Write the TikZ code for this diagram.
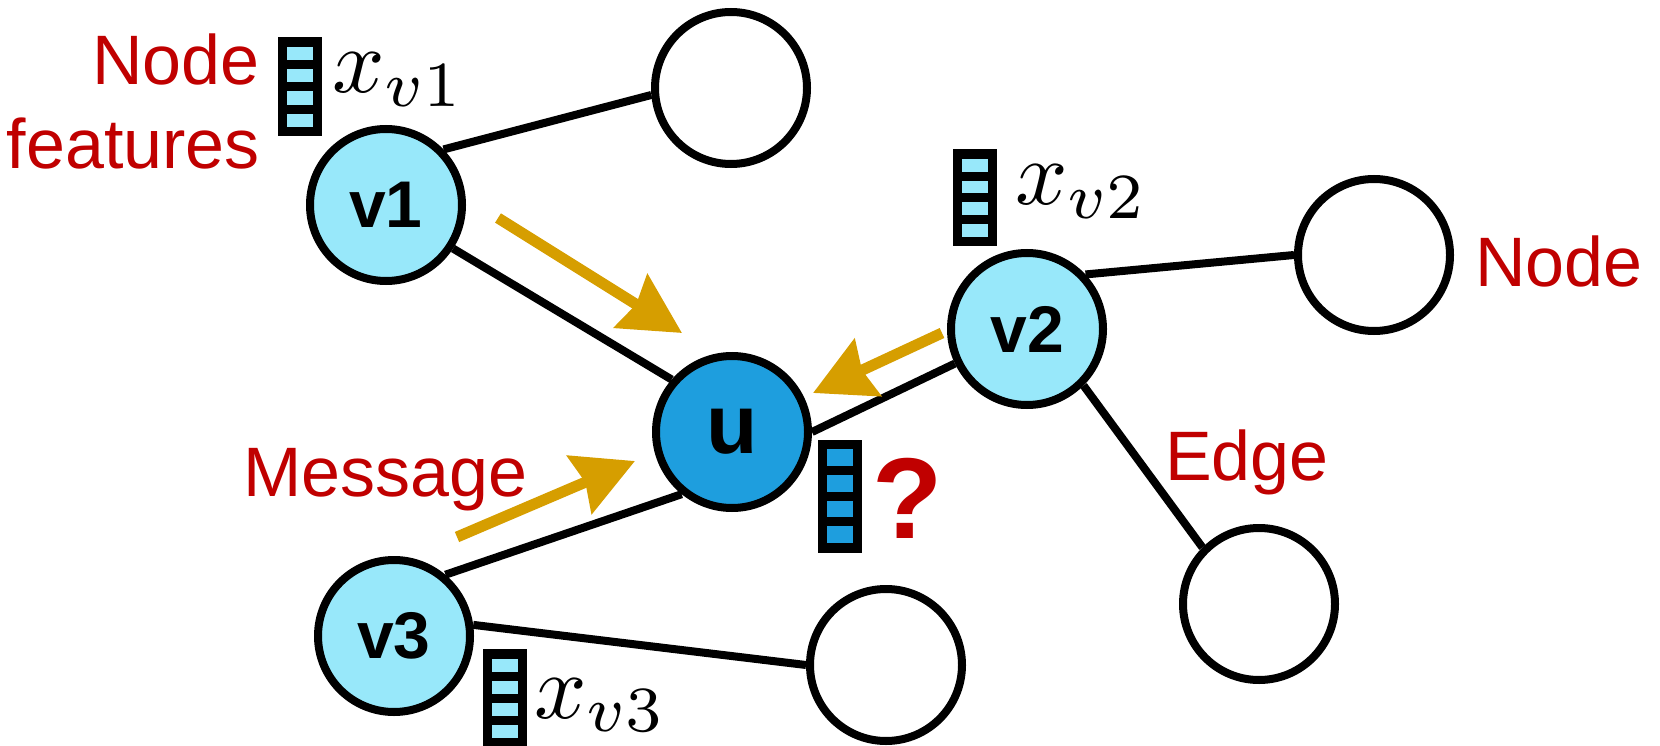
\documentclass[tikz,border=0pt]{standalone}
\usepackage[no-math]{fontspec}
\newfontfamily\labelfont{Liberation Sans}
\usetikzlibrary{arrows.meta}
\definecolor{vcyan}{RGB}{152,232,250}
\definecolor{ublue}{RGB}{30,158,222}
\definecolor{msggold}{RGB}{214,158,0}
\definecolor{lblred}{RGB}{192,0,0}

\begin{document}
\begin{tikzpicture}[x=1pt, y=-1pt,
  gnode/.style={circle, draw, line width=8, minimum size=152, inner sep=0, fill=white,
    font=\labelfont\bfseries\fontsize{66}{66}\selectfont},
  vnode/.style={gnode, fill=vcyan},
  unode/.style={gnode, fill=ublue, font=\labelfont\bfseries\fontsize{84}{84}\selectfont},
  link/.style={line width=8},
  msg/.style={line width=11, msggold, -{Stealth[length=60pt, width=62pt, inset=6pt]}},
  featbar/.style={rectangle, fill=black, inner sep=0, outer sep=0, minimum width=44},
  lbl/.style={lblred, inner sep=0, font=\labelfont\fontsize{70}{84}\selectfont},
  feat/.style={inner sep=0}
]
  \useasboundingbox (0,0) rectangle (1660,746);

  % graph
  \node[vnode] (v1) at (386,205) {v1};
  \node[vnode] (v2) at (1027,329) {v2};
  \node[vnode] (v3) at (394,636) {v3};
  \node[unode] (u) at (732,432) {u};
  \node[gnode] (w1) at (731,88) {};
  \node[gnode] (w2) at (1374,255) {};
  \node[gnode] (w3) at (1259,604) {};
  \node[gnode] (w4) at (886,665) {};

  \draw[link] (v1.44) -- (w1.185);
  \draw[link] (v1.-33) -- (u.139);
  \draw[link] (u.east) -- (v2);
  \draw[link] (v3.50) -- (u.231);
  \draw[link] (v3.8) -- (w4.west);
  \draw[link] (v2.43) -- (w2.west);
  \draw[link] (v2.-45) -- (w3.135);

  % feature vectors
  \foreach \bname/\bx/\by/\bh/\bcol in {xv1/300/87/99/vcyan, xv2/975/198/97/vcyan,
      xv3/505/698/98/vcyan, xu/840/496/113/ublue}{
    \node[featbar, minimum height=\bh] (\bname) at (\bx,\by) {};
    \pgfmathsetmacro\pitch{(\bh-10)/4}
    \foreach \i in {0,...,3}
      \fill[\bcol] (\bx-13, \by-\bh/2+9.5+\i*\pitch) rectangle ++(26,\pitch-9);
  }
  \node[feat, anchor=base west] (lv1) at (332,93) {\scalebox{9.2}{$x_{v1}$}};
  \node[feat, anchor=base west] (lv2) at (1015,205) {\scalebox{9.2}{$x_{v2}$}};
  \node[feat, anchor=base west] (lv3) at (534,718) {\scalebox{9.2}{$x_{v3}$}};

  % messages
  \coordinate (m1a) at (498,218); \coordinate (m1b) at (682,333);
  \coordinate (m2a) at (942,333); \coordinate (m2b) at (813,393);
  \coordinate (m3a) at (457,537); \coordinate (m3b) at (635,461);
  \draw[msg] (m1a) -- (m1b);
  \draw[msg] (m2a) -- (m2b);
  \draw[msg] (m3a) -- (m3b);

  % labels
  \node[lbl, align=right, anchor=north east] (nfeat) at (260,34) {Node\\features};
  \node[lbl, anchor=base west] (nnode) at (1475,286) {Node};
  \node[lbl, anchor=base west] (nedge) at (1165,480) {Edge};
  \node[lbl, anchor=base west] (nmsg) at (243,496) {Message};
  \node[lblred, inner sep=0, anchor=base west,
    font=\labelfont\bfseries\fontsize{115}{115}\selectfont] (quest) at (872,538) {?};
\end{tikzpicture}
\end{document}
